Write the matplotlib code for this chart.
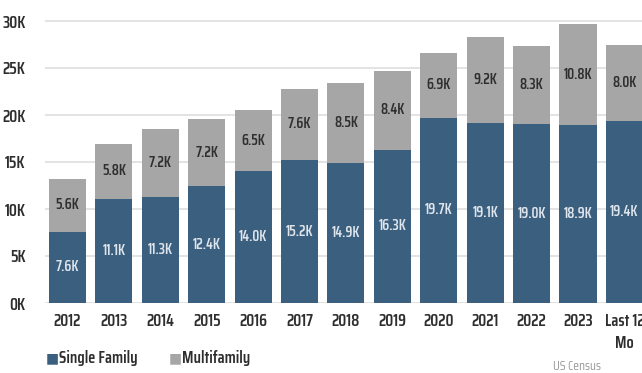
import matplotlib
matplotlib.use("Agg")
import matplotlib.pyplot as plt

YEARS = ["2012", "2013", "2014", "2015", "2016", "2017", "2018", "2019",
         "2020", "2021", "2022", "2023", "Last 12\nMo"]
SINGLE = [7.6, 11.1, 11.3, 12.4, 14.0, 15.2, 14.9, 16.3, 19.7, 19.1, 19.0, 18.9, 19.4]
MULTI = [5.6, 5.8, 7.2, 7.2, 6.5, 7.6, 8.5, 8.4, 6.9, 9.2, 8.3, 10.8, 8.0]
Y_TICKS = [0, 5, 10, 15, 20, 25, 30]

BLUE = "#3b5f7e"
GREY = "#a6a6a6"
TEXT = "#2e2e2e"

plt.rcParams["font.family"] = ["Saira Condensed", "DejaVu Sans"]
plt.rcParams["font.weight"] = "semibold"

fig = plt.figure(figsize=(6.42, 3.73), dpi=100)
ax = fig.add_axes([45 / 642, 70 / 373, 1 - 45 / 642, 32 * 9.4 / 373])

x = list(range(len(YEARS)))
ax.bar(x, SINGLE, width=0.8, color=BLUE, zorder=3)
ax.bar(x, MULTI, width=0.8, bottom=SINGLE, color=GREY, zorder=3)

for i, (s, m) in enumerate(zip(SINGLE, MULTI)):
    ax.text(i, s / 2, f"{s:.1f}K", ha="center", va="center",
            color="#dfe5ec", fontsize=10.5, zorder=4)
    ax.text(i, s + m / 2, f"{m:.1f}K", ha="center", va="center",
            color=TEXT, fontsize=10.5, zorder=4)

ax.set_xlim(-0.485, 12.38)
ax.set_ylim(0, 32)
ax.set_yticks(Y_TICKS)
ax.set_yticklabels([f"{v}K" for v in Y_TICKS])
ax.set_xticks(x)
ax.set_xticklabels(YEARS, linespacing=1.45)
ax.tick_params(length=0, labelsize=12, colors=TEXT)
ax.tick_params(axis="y", pad=14)
ax.tick_params(axis="x", pad=7)
ax.grid(axis="y", color="#dedede", linewidth=1.2, zorder=0)
for sp in ax.spines.values():
    sp.set_visible(False)

# legend: square swatches with labels under the axis
fig.text(46 / 642, 15 / 373, "\u25A0", color=BLUE, fontsize=10, va="center",
         family="DejaVu Sans")
fig.text(59 / 642, 15 / 373, "Single Family", color=TEXT, fontsize=12, va="center")
fig.text(169 / 642, 15 / 373, "\u25A0", color=GREY, fontsize=10, va="center",
         family="DejaVu Sans")
fig.text(182 / 642, 15 / 373, "Multifamily", color=TEXT, fontsize=12, va="center")
fig.text(553 / 642, 6 / 373, "US Census", color="#9a9a9a", fontsize=9.5,
         va="center", weight="normal")

fig.savefig("out.png", dpi=100)
